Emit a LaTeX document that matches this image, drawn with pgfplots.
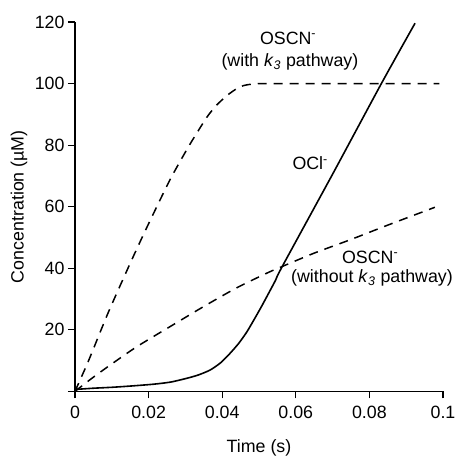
\documentclass[border=0pt]{standalone}
\usepackage{pgfplots}
\pgfplotsset{compat=1.18}
\usepackage{fontspec}
\setmainfont{Liberation Sans}
\newcommand\f{\fontsize{17.8pt}{21pt}\selectfont}
\begin{document}
\begin{tikzpicture}
\begin{axis}[
  scale only axis, width=368pt, height=369.3pt,
  xmin=0, xmax=0.1, ymin=0, ymax=120,
  axis x line*=bottom, axis y line*=left,
  axis line style={line width=1.2pt},
  tick align=outside, major tick length=7pt,
  every tick/.style={line width=1.1pt, black},
  xtick={0,0.02,0.04,0.06,0.08,0.1},
  xticklabels={0,0.02,0.04,0.06,0.08,0.1},
  scaled x ticks=false,
  ytick={0,20,40,60,80,100,120},
  yticklabels={,20,40,60,80,100,120},
  /pgf/number format/assume math mode=true,
  tick label style={font=\f},
  xticklabel style={yshift=-4pt},
  xlabel={Time (s)}, ylabel={Concentration (µM)},
  label style={font=\f},
  xlabel style={at={(axis description cs:0.5,0)}, anchor=base, yshift=-61.4pt},
  ylabel style={at={(axis description cs:-0.152,0.5)}, anchor=center},
  clip=false,
]
\coordinate (O) at (axis cs:0,0);
% OSCN- with k3
\addplot[black, line width=1.5pt, dash pattern=on 9pt off 7pt, smooth, tension=0.4] coordinates {
(0,0) (0.0036,9.7) (0.009,25.5) (0.015,41.6) (0.0195,53.2) (0.0258,68.7)
(0.031,79.8) (0.0358,89.0) (0.0385,93.0) (0.0412,96.0) (0.0435,98.0)
(0.0457,99.3) (0.048,99.8) (0.051,100) (0.06,100) (0.08,100) (0.099,100)};
% OSCN- without k3
\addplot[black, line width=1.5pt, dash pattern=on 9pt off 7pt, smooth, tension=0.4] coordinates {
(0,0) (0.005,4.6) (0.01,8.9) (0.0168,14.5) (0.0258,21.0) (0.0349,27.5)
(0.0439,33.6) (0.0525,38.6) (0.0562,40.5) (0.065,44.9) (0.0747,49.2)
(0.085,54.0) (0.0978,59.8)};
% OCl-
\addplot[black, line width=1.6pt, smooth, tension=0.4] coordinates {
(0,0.6) (0.005,1.0) (0.01,1.3) (0.015,1.7) (0.0213,2.3) (0.026,3.0)
(0.0303,4.2) (0.0335,5.3) (0.0367,6.9) (0.0395,9.2) (0.0421,12.3)
(0.0445,15.6) (0.0467,19.3) (0.049,24.0) (0.0507,27.6) (0.0525,31.6)
(0.0545,36.1) (0.0562,40.3) (0.0702,71.0) (0.0833,100.1) (0.0924,119.6)};
\node[font=\f] at (axis cs:0.0579,114.8) {OSCN\textsuperscript{-}};
\node[font=\f] at (axis cs:0.0584,107.0) {(with \textit{k}\textsubscript{\textit{3}} pathway)};
\node[font=\f] at (axis cs:0.0639,74.2) {OCl\textsuperscript{-}};
\node[font=\f] at (axis cs:0.0802,43.6) {OSCN\textsuperscript{-}};
\node[font=\f] at (axis cs:0.0807,36.8) {(without \textit{k}\textsubscript{\textit{3}} pathway)};
\end{axis}
\pgfresetboundingbox
\path (O) ++(-75pt,-65.7pt) rectangle ++(456pt,457pt);
\end{tikzpicture}
\end{document}
